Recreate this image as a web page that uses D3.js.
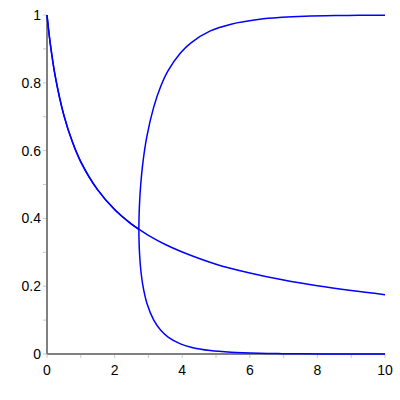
<!DOCTYPE html>
<html>
<head>
<meta charset="utf-8">
<script src="https://cdn.jsdelivr.net/npm/d3@7"></script>
<style>
  html, body { margin: 0; padding: 0; background: #fff; }
  text { font-family: "Liberation Sans", Arial, sans-serif; font-size: 14px; fill: #000; }
</style>
</head>
<body>
<script>
// Decreasing curve
const fixedX = [0, 0.1, 0.25, 0.5, 0.75, 1, 1.5, 2, 2.5, 2.718, 3, 3.5, 4, 5, 6, 7, 8, 9, 10];
const fixedY = [1, 0.913, 0.816, 0.704, 0.626, 0.567, 0.484, 0.426, 0.383, 0.368, 0.35, 0.323, 0.301, 0.265, 0.239, 0.218, 0.201, 0.187, 0.175];

// Split curve: upper branch, lower branch (same x values)
const splitX = [2.718, 2.724, 2.736, 2.773, 2.84, 2.955, 3.159, 3.366, 3.583, 3.948, 4.26, 4.833, 5.445, 6.293, 6.956, 7.63, 8.53, 9.22, 10];
const upperY = [0.368, 0.407, 0.44, 0.5, 0.567, 0.642, 0.729, 0.79, 0.836, 0.888, 0.918, 0.953, 0.973, 0.9875, 0.993, 0.9962, 0.9983, 0.9991, 0.9995];
const lowerY = [0.368, 0.33, 0.3, 0.25, 0.2, 0.15, 0.1, 0.07, 0.05, 0.03, 0.02, 0.01, 0.005, 0.002, 0.001, 0.0005, 0.0002, 0.0001, 0.00005];

const xTicks = [0, 2, 4, 6, 8, 10];
const yTicks = [0, 0.2, 0.4, 0.6, 0.8, 1];

const W = 400, H = 400;
const margin = { top: 15, right: 15, bottom: 46, left: 47 };

const svg = d3.select("body").append("svg")
    .attr("width", W)
    .attr("height", H);

const x = d3.scaleLinear().domain([0, 10]).range([margin.left, W - margin.right]);
const y = d3.scaleLinear().domain([0, 1]).range([H - margin.bottom, margin.top]);

// minor + major ticks
const tickColor = "#c8c8c8";
const xMinor = d3.range(0, 10.01, 1);
const yMinor = d3.range(0, 1.001, 0.1);

svg.append("g").selectAll("line").data(xMinor).enter().append("line")
    .attr("x1", d => x(d)).attr("x2", d => x(d))
    .attr("y1", y(0)).attr("y2", y(0) + 4)
    .attr("stroke", tickColor).attr("stroke-width", 1);

svg.append("g").selectAll("line").data(yMinor).enter().append("line")
    .attr("x1", x(0) - 4).attr("x2", x(0))
    .attr("y1", d => y(d)).attr("y2", d => y(d))
    .attr("stroke", tickColor).attr("stroke-width", 1);

// tick labels
svg.append("g").selectAll("text").data(xTicks).enter().append("text")
    .attr("x", d => x(d))
    .attr("y", y(0) + 21)
    .attr("text-anchor", "middle")
    .text(d => d);

svg.append("g").selectAll("text").data(yTicks).enter().append("text")
    .attr("x", x(0) - 6)
    .attr("y", d => y(d) + 5)
    .attr("text-anchor", "end")
    .text(d => d);

// axis lines
svg.append("line")
    .attr("x1", x(0)).attr("x2", x(10))
    .attr("y1", y(0)).attr("y2", y(0))
    .attr("stroke", "#808080").attr("stroke-width", 2);
svg.append("line")
    .attr("x1", x(0)).attr("x2", x(0))
    .attr("y1", y(0)).attr("y2", y(1))
    .attr("stroke", "#808080").attr("stroke-width", 2);

const line = d3.line()
    .x(d => x(d[0]))
    .y(d => y(d[1]))
    .curve(d3.curveCatmullRom);

const fixedPts = fixedX.map((v, i) => [v, fixedY[i]]);
// the second curve also runs along the first one left of x = e
const leftPts = fixedPts.filter(d => d[0] <= 2.718);
const splitPts = splitX.map((v, i) => [v, upperY[i]]).reverse()
    .concat(splitX.slice(1).map((v, i) => [v, lowerY[i + 1]]));

svg.append("path")
    .attr("d", line(fixedPts))
    .attr("fill", "none")
    .attr("stroke", "#0000ff")
    .attr("stroke-width", 1.5);

svg.append("path")
    .attr("d", line(leftPts))
    .attr("fill", "none")
    .attr("stroke", "#0000ff")
    .attr("stroke-width", 1.5);

svg.append("path")
    .attr("d", line(splitPts))
    .attr("fill", "none")
    .attr("stroke", "#0000ff")
    .attr("stroke-width", 1.5);
</script>
</body>
</html>
